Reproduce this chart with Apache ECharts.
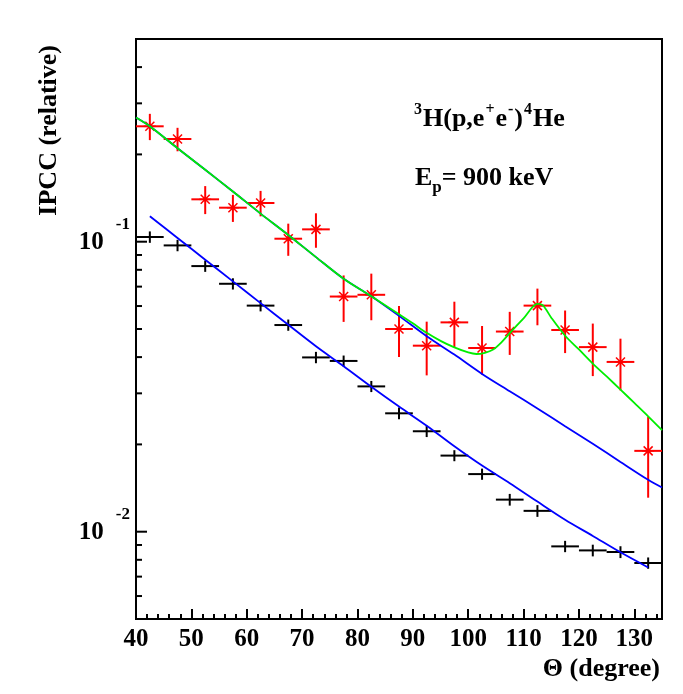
<!DOCTYPE html>
<html>
<head>
<meta charset="utf-8">
<script src="https://cdn.jsdelivr.net/npm/echarts@6/dist/echarts.min.js"></script>
<style>
  html, body { margin: 0; padding: 0; background: #ffffff; }
  #chart { width: 683px; height: 694px; }
</style>
</head>
<body>
<div id="chart"></div>
<script>
// Emission angle of the e+e- pair (bin centres, degrees) and bin half-width
const theta = [42.5, 47.5, 52.5, 57.5, 62.5, 67.5, 72.5, 77.5, 82.5, 87.5,
               92.5, 97.5, 102.5, 107.5, 112.5, 117.5, 122.5, 127.5, 132.5];
const binHalfWidth = 2.5;

// Measured IPCC, 3H(p,e+e-)4He at Ep = 900 keV (red stars)
const ipccMeasured = [0.250, 0.226, 0.140, 0.131, 0.136, 0.1024, 0.1103, 0.0647, 0.0656, 0.0500,
                      0.0438, 0.0527, 0.0430, 0.0490, 0.0602, 0.0496, 0.0433, 0.0385, 0.0190];
const ipccMeasuredErr = [0.026, 0.021, 0.0155, 0.014, 0.0137, 0.013, 0.015, 0.0118, 0.012, 0.010,
                         0.0092, 0.0094, 0.0082, 0.0083, 0.0087, 0.0083, 0.0089, 0.0078, 0.0059];

// Reference IPCC distribution (black crosses)
const ipccReference = [0.1038, 0.0971, 0.0824, 0.0716, 0.0602, 0.0516, 0.0399, 0.0388, 0.0317, 0.0256,
                       0.0222, 0.0183, 0.0158, 0.0129, 0.0118, 0.0089, 0.00862, 0.00851, 0.0078];
const ipccReferenceErr = [0.0047, 0.0044, 0.0037, 0.0032, 0.0027, 0.0023, 0.0018, 0.0017, 0.0014, 0.0012,
                          0.0010, 0.0008, 0.0007, 0.0006, 0.00055, 0.0004, 0.0004, 0.0004, 0.00035];

// Lower theoretical IPCC curve (blue)
const theoryLowX = [42.5, 47.5, 52.5, 57.5, 62.5, 67.5, 72.5, 77.5, 82.5, 87.5,
                    92.5, 97.5, 102.5, 107.5, 112.5, 117.5, 122.5, 127.5, 132.5];
const theoryLowY = [0.1224, 0.1030, 0.0867, 0.0730, 0.0614, 0.0517, 0.0436, 0.0372, 0.0316, 0.0270,
                    0.0232, 0.0197, 0.0169, 0.0147, 0.0127, 0.0110, 0.00967, 0.00849, 0.00753];

// Upper theoretical IPCC curve (blue)
const theoryHighX = [40, 42.5, 47.5, 52.5, 57.5, 62.5, 67.5, 72.5, 77.5, 82.5, 87.5,
                     92.5, 97.5, 102.5, 107.5, 112.5, 117.5, 122.5, 127.5, 132.5, 135];
const theoryHighY = [0.268, 0.250, 0.210, 0.177, 0.149, 0.125, 0.1055, 0.0885, 0.0745, 0.0648, 0.0555,
                     0.0472, 0.0408, 0.0350, 0.0305, 0.0266, 0.0231, 0.0201, 0.0174, 0.0151, 0.0142];

// Fit including the resonance contribution (green)
const fitX = [40, 42.5, 47.5, 52.5, 57.5, 62.5, 67.5, 72.5, 77.5, 82.5, 87.5, 90, 92.5, 95, 97.5,
              100, 101.5, 103, 104.5, 106, 107.5, 110, 112.5, 113.5, 115, 117.5, 120, 122.5,
              125, 127.5, 130, 132.5, 135];
const fitY = [0.268, 0.250, 0.210, 0.177, 0.149, 0.125, 0.1055, 0.0885, 0.0745, 0.0648, 0.0562, 0.0523,
              0.0485, 0.0455, 0.0432, 0.0415, 0.0410, 0.0414, 0.0425, 0.0450, 0.0484, 0.0544, 0.0610,
              0.0603, 0.0547, 0.0474, 0.0425, 0.0380, 0.0343, 0.0309, 0.0278, 0.0250, 0.0224];

// Log-axis tick values
const yMinorTicks = [0.006, 0.007, 0.008, 0.009, 0.02, 0.03, 0.04, 0.05, 0.06, 0.07, 0.08, 0.09, 0.2, 0.3, 0.4];
const yMajorTicks = [0.01, 0.1];

const SERIF = '"Liberation Serif", "Times New Roman", serif';

function zip(xs, ys) { return xs.map((x, i) => [x, ys[i]]); }

function errorBarItem(color, withStar) {
  return function (params, api) {
    const x = api.value(0), y = api.value(1), e = api.value(2);
    const c = api.coord([x, y]);
    const l = api.coord([x - binHalfWidth, y]);
    const r = api.coord([x + binHalfWidth, y]);
    const t = api.coord([x, y + e]);
    const b = api.coord([x, y - e]);
    const st = { stroke: color, lineWidth: 2 };
    const children = [
      { type: 'line', shape: { x1: l[0], y1: c[1], x2: r[0], y2: c[1] }, style: st },
      { type: 'line', shape: { x1: c[0], y1: t[1], x2: c[0], y2: b[1] }, style: st }
    ];
    if (withStar) {
      const s = 4.5;
      const ds = { stroke: color, lineWidth: 1.5 };
      children.push(
        { type: 'line', shape: { x1: c[0] - s, y1: c[1] - s, x2: c[0] + s, y2: c[1] + s }, style: ds },
        { type: 'line', shape: { x1: c[0] - s, y1: c[1] + s, x2: c[0] + s, y2: c[1] - s }, style: ds },
        { type: 'line', shape: { x1: c[0] - 6, y1: c[1], x2: c[0] + 6, y2: c[1] }, style: ds },
        { type: 'circle', shape: { cx: c[0], cy: c[1], r: 2.2 }, style: { fill: color } }
      );
    }
    return { type: 'group', children: children };
  };
}

function yTickItem(len) {
  return function (params, api) {
    const p = api.coord([api.value(0), api.value(1)]);
    return {
      type: 'line',
      shape: { x1: p[0], y1: p[1], x2: p[0] + len, y2: p[1] },
      style: { stroke: '#000', lineWidth: 2 }
    };
  };
}

const chart = echarts.init(document.getElementById('chart'), null, { renderer: 'canvas' });

chart.setOption({
  animation: false,
  backgroundColor: '#ffffff',
  grid: {
    left: 136, right: 21, top: 39, bottom: 75,
    show: true, borderColor: '#000', borderWidth: 2, backgroundColor: 'transparent'
  },
  xAxis: {
    type: 'value', min: 40, max: 135, interval: 10,
    axisLine: { show: true, onZero: false, lineStyle: { color: '#000', width: 2 } },
    axisTick: { show: true, inside: true, length: 10, lineStyle: { color: '#000', width: 2 } },
    minorTick: { show: true, splitNumber: 5, length: 5, lineStyle: { color: '#000', width: 2 } },
    splitLine: { show: false },
    axisLabel: {
      margin: 8, color: '#000', fontFamily: SERIF, fontWeight: 'bold', fontSize: 25,
      showMinLabel: true, showMaxLabel: false
    }
  },
  yAxis: {
    type: 'log', logBase: 10, min: 0.005, max: 0.5,
    axisLine: { show: true, onZero: false, lineStyle: { color: '#000', width: 2 } },
    axisTick: { show: false },
    splitLine: { show: false },
    axisLabel: {
      margin: 6, color: '#000', padding: [34, 0, 0, 0],
      formatter: function (v) {
        const k = Math.log10(v);
        const n = Math.round(k);
        if (Math.abs(k - n) > 1e-6) return '';
        return '{b|10}{s|' + n + '}';
      },
      rich: {
        b: { fontFamily: SERIF, fontWeight: 'bold', fontSize: 25, lineHeight: 25,
             padding: [0, 0, 16, 0], verticalAlign: 'bottom', color: '#000' },
        s: { fontFamily: SERIF, fontWeight: 'bold', fontSize: 17, lineHeight: 17,
             padding: [0, 0, 38, 12], verticalAlign: 'bottom', color: '#000' }
      }
    }
  },
  graphic: [
    {
      type: 'text', x: 49, y: 45, rotation: Math.PI / 2,
      style: { text: 'IPCC (relative)', align: 'right', verticalAlign: 'middle',
               font: 'bold 26px ' + SERIF, fill: '#000' }
    },
    {
      type: 'text', x: 660, y: 669,
      style: { text: 'Θ (degree)', align: 'right', verticalAlign: 'middle',
               font: 'bold 26px ' + SERIF, fill: '#000' }
    },
    {
      type: 'text', x: 413, y: 102,
      style: {
        text: '{u|3}{m|H(p,e}{u|+}{m|e}{u|-}{m|)}{u|4}{m|He}',
        align: 'left', verticalAlign: 'top',
        rich: {
          m: { fontFamily: SERIF, fontWeight: 'bold', fontSize: 26, lineHeight: 30, verticalAlign: 'bottom', fill: '#000' },
          u: { fontFamily: SERIF, fontWeight: 'bold', fontSize: 16, lineHeight: 16, padding: [0, 1, 14, 1], verticalAlign: 'bottom', fill: '#000' }
        }
      }
    },
    {
      type: 'text', x: 415, y: 166,
      style: {
        text: '{m|E}{d|p}{m|= 900 keV}',
        align: 'left', verticalAlign: 'top',
        rich: {
          m: { fontFamily: SERIF, fontWeight: 'bold', fontSize: 26, lineHeight: 30, padding: [0, 0, 5, 0], verticalAlign: 'bottom', fill: '#000' },
          d: { fontFamily: SERIF, fontWeight: 'bold', fontSize: 17, lineHeight: 17, verticalAlign: 'bottom', fill: '#000' }
        }
      }
    }
  ],
  series: [
    {
      name: 'y minor ticks', type: 'custom', renderItem: yTickItem(6), silent: true, z: 1,
      encode: { x: 0, y: 1 },
      data: yMinorTicks.map(v => [40, v])
    },
    {
      name: 'y major ticks', type: 'custom', renderItem: yTickItem(11), silent: true, z: 1,
      encode: { x: 0, y: 1 },
      data: yMajorTicks.map(v => [40, v])
    },
    {
      name: 'reference', type: 'custom', renderItem: errorBarItem('#000000', false), clip: true, z: 2,
      encode: { x: 0, y: 1 },
      data: theta.map((x, i) => [x, ipccReference[i], ipccReferenceErr[i]])
    },
    {
      name: 'measured', type: 'custom', renderItem: errorBarItem('#ff0000', true), clip: true, z: 3,
      encode: { x: 0, y: 1 },
      data: theta.map((x, i) => [x, ipccMeasured[i], ipccMeasuredErr[i]])
    },
    {
      name: 'theory low', type: 'line', data: zip(theoryLowX, theoryLowY), showSymbol: false,
      smooth: 0.3, lineStyle: { color: '#0000ff', width: 1.8 }, z: 4
    },
    {
      name: 'theory high', type: 'line', data: zip(theoryHighX, theoryHighY), showSymbol: false,
      smooth: 0.3, lineStyle: { color: '#0000ff', width: 1.8 }, z: 4
    },
    {
      name: 'fit', type: 'line', data: zip(fitX, fitY), showSymbol: false,
      smooth: 0.3, lineStyle: { color: '#00ee00', width: 1.8 }, z: 5
    }
  ]
});
</script>
</body>
</html>
